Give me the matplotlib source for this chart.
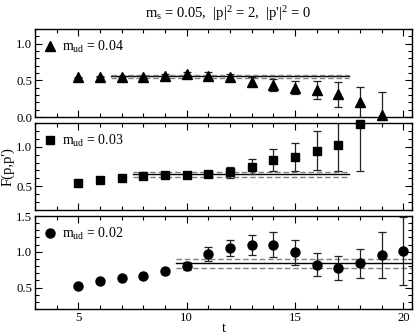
import matplotlib
matplotlib.use("Agg")
import matplotlib.pyplot as plt
from matplotlib.ticker import MultipleLocator, FormatStrFormatter
from matplotlib.lines import Line2D

plt.rcParams['font.family'] = ['Liberation Serif', 'DejaVu Serif']
plt.rcParams['mathtext.fontset'] = 'custom'
plt.rcParams['mathtext.rm'] = 'Liberation Serif'
plt.rcParams['mathtext.it'] = 'Liberation Serif:italic'

# m_ud = 0.04 (triangles)
t_04 = [5, 6, 7, 8, 9, 10, 11, 12, 13, 14, 15, 16, 17, 18, 19]
f_04 = [0.54, 0.55, 0.55, 0.55, 0.56, 0.58, 0.56, 0.54, 0.48, 0.44, 0.40, 0.37, 0.31, 0.20, 0.03]
e_04 = [0.01, 0.01, 0.01, 0.015, 0.03, 0.04, 0.05, 0.05, 0.06, 0.08, 0.09, 0.12, 0.17, 0.21, 0.31]
fit_04 = (6.5, 17.5, 0.553, 0.02)

# m_ud = 0.03 (squares)
t_03 = [5, 6, 7, 8, 9, 10, 11, 12, 13, 14, 15, 16, 17, 18]
f_03 = [0.54, 0.58, 0.61, 0.63, 0.64, 0.64, 0.65, 0.675, 0.75, 0.83, 0.87, 0.95, 1.025, 1.285]
e_03 = [0.01, 0.01, 0.01, 0.01, 0.015, 0.02, 0.03, 0.07, 0.1, 0.14, 0.18, 0.25, 0.33, 0.59]
fit_03 = (7.5, 17.5, 0.65, 0.033)

# m_ud = 0.02 (circles)
t_02 = [5, 6, 7, 8, 9, 10, 11, 12, 13, 14, 15, 16, 17, 18, 19, 20]
f_02 = [0.52, 0.585, 0.63, 0.665, 0.725, 0.80, 0.97, 1.05, 1.09, 1.10, 0.99, 0.82, 0.77, 0.84, 0.96, 1.01]
e_02 = [0.01, 0.01, 0.015, 0.02, 0.03, 0.06, 0.1, 0.11, 0.14, 0.18, 0.18, 0.16, 0.17, 0.2, 0.32, 0.47]
fit_02 = (9.5, 20.6, 0.837, 0.06)

panels = [
    (t_04, f_04, e_04, fit_04, '^', 6.5, r'$\mathrm{m_{ud}}$ = 0.04', (0.0, 1.2), [0.0, 0.5, 1.0]),
    (t_03, f_03, e_03, fit_03, 's', 5.5, r'$\mathrm{m_{ud}}$ = 0.03', (0.2, 1.3), [0.5, 1.0]),
    (t_02, f_02, e_02, fit_02, 'o', 6.5, r'$\mathrm{m_{ud}}$ = 0.02', (0.2, 1.5), [0.5, 1.0, 1.5]),
]

fig = plt.figure(figsize=(4.15, 3.34), dpi=100)
rects = [
    [35 / 415, 1 - 117 / 334, 377 / 415, 88 / 334],
    [35 / 415, 1 - 210 / 334, 377 / 415, 87 / 334],
    [35 / 415, 1 - 309 / 334, 377 / 415, 93 / 334],
]

axes = []
for rect, (t, f, e, fit, mk, ms, lab, ylim, yt) in zip(rects, panels):
    ax = fig.add_axes(rect)
    x0, x1, c, d = fit
    ax.plot([x0, x1], [c, c], color='black', lw=1.0, zorder=2)
    ax.plot([x0, x1], [c + d, c + d], color='#808080', lw=1.0, ls=(0, (4, 2)), zorder=2)
    ax.plot([x0, x1], [c - d, c - d], color='#808080', lw=1.0, ls=(0, (4, 2)), zorder=2)
    ax.errorbar(t, f, yerr=e, fmt='none', ecolor='#222222',
                elinewidth=0.9, capsize=3, capthick=0.9, zorder=3)
    ax.plot(t, f, mk, color='black', ms=ms, zorder=4, clip_on=False)
    ax.set_xlim(3, 20.4)
    ax.set_ylim(*ylim)
    ax.set_yticks(yt)
    ax.yaxis.set_minor_locator(MultipleLocator(0.1))
    ax.xaxis.set_major_locator(MultipleLocator(5))
    ax.xaxis.set_minor_locator(MultipleLocator(1))
    ax.tick_params(which='both', direction='in', top=True, right=True, labelsize=9.2,
                   width=0.8, pad=2)
    ax.tick_params(which='major', length=5)
    ax.tick_params(which='minor', length=3)
    ax.yaxis.set_major_formatter(FormatStrFormatter('%.1f'))
    for s in ax.spines.values():
        s.set_linewidth(1.0)
    handle = Line2D([], [], marker=mk, ls='none', color='black', ms=ms)
    ax.legend([handle], [lab], loc='upper left', frameon=False, fontsize=10,
              handlelength=0.8, handletextpad=0.45, borderaxespad=0.3,
              borderpad=0.4, numpoints=1)
    axes.append(ax)

axes[0].tick_params(labelbottom=False)
axes[1].tick_params(labelbottom=False)
axes[2].set_xlabel('t', fontsize=10, labelpad=-1)
fig.text(0.018, 0.5, "F(p,p')", rotation=90, ha='center', va='center', fontsize=10.5)
fig.text(0.549, 0.958, r"$\mathrm{m_s}$ = 0.05,  |p|$^2$ = 2,  |p'|$^2$ = 0",
         ha='center', va='center', fontsize=10.5)

fig.savefig('out.png', dpi=100)
